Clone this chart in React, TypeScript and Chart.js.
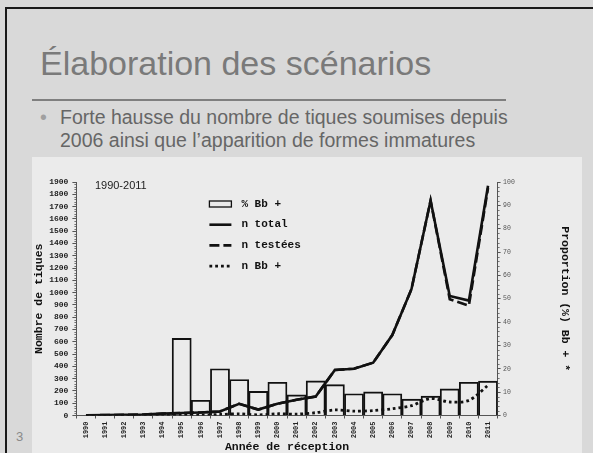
import React, { useEffect, useRef } from "react";
import { Chart, registerables } from "chart.js";

Chart.register(...registerables);

const years = ["1990","1991","1992","1993","1994","1995","1996","1997","1998","1999","2000","2001","2002","2003","2004","2005","2006","2007","2008","2009","2010","2011"];
const pctBbPos = [null,null,null,null,null,33,6.5,20,15.4,10.3,14.2,8.8,14.8,13.2,9.3,10.1,9.3,7.0,8.3,11.4,14.2,14.7];
const nTotal = [2,3,5,8,15,20,25,33,95,48,95,128,155,370,381,430,655,1028,1749,973,935,1869];
const nTestees = [2,3,5,8,15,20,25,33,95,48,95,128,155,370,381,430,655,1028,1749,946,894,1850];
const nBbPos = [0,0,0,0,2,8,3,8,14,5,14,11,23,45,35,40,55,80,138,110,123,245];
const seriesLabels = ["% Bb +", "n total", "n testées", "n Bb +"];
const periodLabel = "1990-2011";
const leftTitle = "Nombre de tiques";
const rightTitle = "Proportion (%) Bb + *";
const bottomTitle = "Année de réception";

const MONO = "'Liberation Mono', 'Courier New', monospace";
const SANS = "'Liberation Sans', Arial, sans-serif";

const minorTicks = {
  id: "minorTicks",
  afterDraw(chart: any) {
    const { ctx } = chart;
    const y = chart.scales.y;
    const y1 = chart.scales.y1;
    ctx.save();
    ctx.strokeStyle = "#555";
    ctx.lineWidth = 0.8;
    ctx.beginPath();
    for (let v = 0; v <= 1900; v += 20) {
      if (v % 100 === 0) continue;
      const py = Math.round(y.getPixelForValue(v)) + 0.5;
      ctx.moveTo(y.right - 2, py);
      ctx.lineTo(y.right, py);
    }
    for (let v = 0; v <= 100; v += 2) {
      if (v % 10 === 0) continue;
      const py = Math.round(y1.getPixelForValue(v)) + 0.5;
      ctx.moveTo(y1.left, py);
      ctx.lineTo(y1.left + 2, py);
    }
    ctx.stroke();
    ctx.restore();
  },
};

const customLegend = {
  id: "customLegend",
  afterDatasetsDraw(chart: any) {
    const { ctx, chartArea } = chart;
    const x0 = chartArea.left + 133;
    const y0 = chartArea.top + 22;
    const rowH = 20.7;
    chart.data.datasets.forEach((ds: any, i: number) => {
      const yy = y0 + i * rowH;
      ctx.save();
      ctx.strokeStyle = "#111";
      if (ds.type === "bar") {
        ctx.lineWidth = 1.3;
        ctx.strokeRect(x0, yy - 3, 22, 6);
      } else {
        ctx.setLineDash(ds.borderDash || []);
        ctx.lineWidth = ds.borderWidth;
        ctx.beginPath();
        ctx.moveTo(x0, yy);
        ctx.lineTo(x0 + 22, yy);
        ctx.stroke();
      }
      ctx.setLineDash([]);
      ctx.fillStyle = "#111";
      ctx.font = `bold 11px ${MONO}`;
      ctx.textBaseline = "middle";
      ctx.fillText(ds.label, x0 + 32, yy);
      ctx.restore();
    });
    ctx.save();
    ctx.fillStyle = "#222";
    ctx.font = `11px ${SANS}`;
    ctx.textBaseline = "middle";
    ctx.fillText(periodLabel, chartArea.left + 18.5, chartArea.top + 4);
    ctx.restore();
  },
};

function ChartCanvas() {
  const ref = useRef<HTMLCanvasElement | null>(null);
  useEffect(() => {
    if (!ref.current) return;
    const chart = new Chart(ref.current, {
      data: {
        labels: years,
        datasets: [
          {
            type: "bar",
            label: seriesLabels[0],
            data: pctBbPos as any,
            yAxisID: "y1",
            backgroundColor: "rgba(0,0,0,0)",
            borderColor: "#111",
            borderWidth: 1.2,
            barPercentage: 1,
            categoryPercentage: 1,
            order: 10,
          },
          {
            type: "line",
            label: seriesLabels[1],
            data: nTotal,
            yAxisID: "y",
            borderColor: "#111",
            borderWidth: 2.6,
            pointRadius: 0,
            tension: 0,
            order: 2,
          },
          {
            type: "line",
            label: seriesLabels[2],
            data: nTestees,
            yAxisID: "y",
            borderColor: "#111",
            borderWidth: 2.6,
            borderDash: [10, 4],
            pointRadius: 0,
            tension: 0,
            order: 1,
          },
          {
            type: "line",
            label: seriesLabels[3],
            data: nBbPos,
            yAxisID: "y",
            borderColor: "#111",
            borderWidth: 2.8,
            borderDash: [2.8, 3],
            pointRadius: 0,
            tension: 0.3,
            order: 3,
          },
        ],
      } as any,
      options: {
        animation: false,
        responsive: false,
        devicePixelRatio: 1,
        layout: { padding: { top: 25, left: 0, right: 0, bottom: 0 } },
        plugins: { legend: { display: false }, tooltip: { enabled: false } },
        scales: {
          x: {
            offset: true,
            grid: { display: true, drawOnChartArea: false, tickLength: 3, color: "#555", offset: true },
            border: { display: true, color: "#555", width: 1 },
            ticks: {
              minRotation: 90,
              maxRotation: 90,
              autoSkip: false,
              padding: 3,
              color: "#222",
              font: { family: MONO, size: 7, weight: "bold" },
            },
            title: {
              display: true,
              text: bottomTitle,
              color: "#111",
              font: { family: MONO, size: 11.5, weight: "bold", lineHeight: 1 },
              padding: { top: 0, bottom: 0 },
            },
            afterFit(scale: any) { scale.height = 37.5; },
          },
          y: {
            position: "left",
            min: 0,
            max: 1900,
            ticks: {
              stepSize: 100,
              autoSkip: false,
              padding: 4,
              color: "#222",
              font: { family: MONO, size: 8, weight: "bold" },
              callback: (v: any) => String(v),
            },
            grid: { display: true, drawOnChartArea: false, tickLength: 4, color: "#555" },
            border: { display: true, color: "#555", width: 1 },
            title: {
              display: true,
              text: leftTitle,
              color: "#111",
              font: { family: MONO, size: 11.5, weight: "bold", lineHeight: 1.2 },
              padding: { top: 0, bottom: 0 },
            },
            afterFit(scale: any) { scale.width = 44.4; },
          },
          y1: {
            position: "right",
            min: 0,
            max: 100,
            ticks: {
              stepSize: 10,
              autoSkip: false,
              padding: 2.5,
              color: "#555",
              font: { family: MONO, size: 6.5 },
              callback: (v: any) => String(v),
            },
            grid: { display: true, drawOnChartArea: false, tickLength: 3, color: "#555" },
            border: { display: true, color: "#555", width: 1 },
            title: {
              display: true,
              text: rightTitle,
              color: "#111",
              font: { family: MONO, size: 11.5, weight: "bold", lineHeight: 1.2 },
              padding: { top: 10, bottom: 0 },
            },
            afterFit(scale: any) { scale.width = 84.4; },
          },
        },
      } as any,
      plugins: [minorTicks, customLegend],
    });
    return () => chart.destroy();
  }, []);
  return <canvas ref={ref} width={550} height={296} style={{ position: "absolute", left: 0, top: 0, width: 550, height: 296 }} />;
}

export default function App() {
  return (
    <div style={{ position: "fixed", left: 0, top: 0, width: 593, height: 453, background: "#d9d9d9", overflow: "hidden" }}>
      <div style={{ position: "absolute", left: 5, top: 7, right: 0, height: 2, background: "#1a1a1a" }} />
      <div style={{ position: "absolute", left: 5, top: 7, bottom: 0, width: 2, background: "#1a1a1a" }} />
      <div style={{ position: "absolute", left: 40, top: 44, fontFamily: SANS, fontSize: 34, lineHeight: "38px", color: "#7a7a7a", whiteSpace: "nowrap" }}>
        Élaboration des scénarios
      </div>
      <div style={{ position: "absolute", left: 32, top: 99, width: 474, height: 2, background: "#7f7f7f" }} />
      <div style={{ position: "absolute", left: 40, top: 106, fontFamily: SANS, fontSize: 19.5, lineHeight: "23px", color: "#a0a0a0" }}>•</div>
      <div style={{ position: "absolute", left: 60, top: 106, fontFamily: SANS, fontSize: 19.5, lineHeight: "23px", color: "#666", whiteSpace: "nowrap" }}>
        Forte hausse du nombre de tiques soumises depuis<br />2006 ainsi que l’apparition de formes immatures
      </div>
      <div style={{ position: "absolute", left: 16, top: 429, fontFamily: SANS, fontSize: 13, color: "#8a8a8a" }}>3</div>
      <div style={{ position: "absolute", left: 32, top: 157, width: 550, height: 296, background: "#ebebeb" }}>
        <ChartCanvas />
      </div>
    </div>
  );
}
